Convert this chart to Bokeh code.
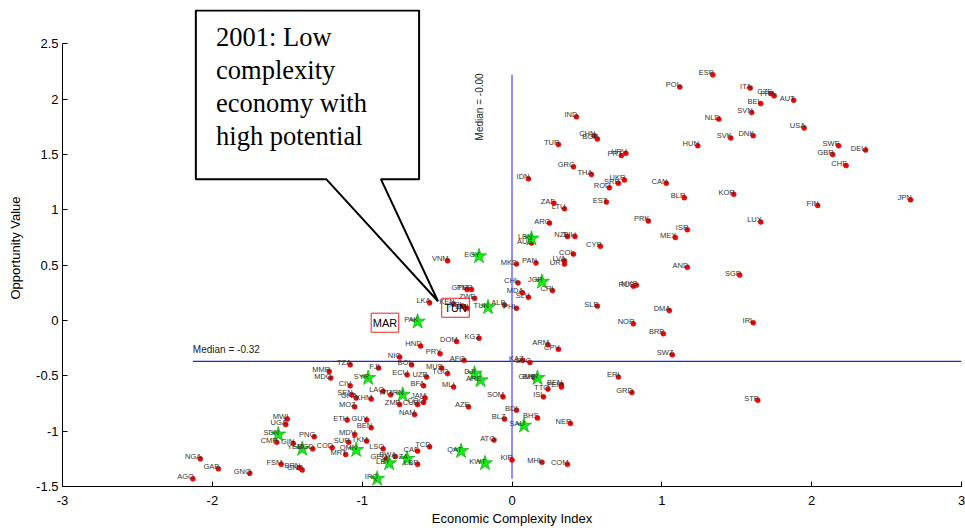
import math
from bokeh.plotting import figure
from bokeh.models import (ColumnDataSource, FixedTicker, PolyAnnotation, Label,
                          BoxAnnotation, Range1d)
from bokeh.core.properties import value
from bokeh.embed import file_html
from bokeh.resources import INLINE

# ---- data ----
dot_codes = ["AGO", "NGA", "GAB", "GNQ", "FSM", "BRN", "GNB", "MWI", "UGA", "CMR",
             "GIN", "BGD", "PNG", "COD", "MRT", "MDV", "SUR", "TKM", "ETH", "GUY",
             "BEN", "MOZ", "CIV", "SEN", "GHA", "KHM", "MMR", "MDG", "TZA", "FJI",
             "NIC", "BOL", "ECU", "UZB", "MUS", "TGO", "AFG", "BFA", "MLI", "LAO",
             "HTI", "JAM", "ZMB", "CUB", "COG", "NAM", "SOM", "AZE", "BDI", "BLZ",
             "BHS", "ATG", "TCD", "CAF", "KIR", "MHL", "COM", "LSO", "BWA", "LBR",
             "GEO", "VNM", "MKD", "PAN", "CHL", "CRI", "MDA", "SLV", "GTM", "PER",
             "ZWE", "LKA", "KEN", "NPL", "IDN", "ALB", "PHL", "HND", "DOM", "KGZ",
             "PRY", "KAZ", "SYC", "ARM", "CPV", "GMB", "BEN", "YEM", "TTO", "ISL",
             "NER", "SLE", "ERI", "GRD", "STP", "SWZ", "BRB", "NOR", "DMA", "IRL",
             "RUS", "MYS", "SGP", "AND", "CYP", "LVA", "URY", "COL", "AUS", "NZL",
             "BIH", "ARG", "ZAF", "LTU", "IDN", "GRC", "THA", "TUR", "IND", "CHN",
             "BGR", "PRT", "HRV", "ROU", "SRB", "UKR", "EST", "CAN", "BLR", "PRK",
             "ISR", "MEX", "HUN", "NLD", "SVK", "DNK", "KOR", "LUX", "POL", "ESP",
             "ITA", "CZE", "FRA", "AUT", "BEL", "SVN", "USA", "SWE", "GBR", "DEU",
             "CHE", "FIN", "JPN"]
dot_eci = [-2.13, -2.08, -1.96, -1.75, -1.54, -1.42, -1.40, -1.50, -1.51, -1.57,
           -1.46, -1.33, -1.32, -1.20, -1.11, -1.05, -1.09, -0.97, -1.10, -0.97,
           -0.94, -1.05, -1.08, -1.07, -1.04, -0.94, -1.22, -1.21, -1.08, -0.89,
           -0.75, -0.67, -0.70, -0.57, -0.47, -0.43, -0.32, -0.59, -0.39, -0.86,
           -0.81, -0.58, -0.75, -0.63, -0.59, -0.65, -0.06, -0.29, 0.03, -0.05,
           0.17, -0.12, -0.55, -0.63, 0.00, 0.20, 0.37, -0.86, -0.78, -0.63,
           -0.84, -0.43, 0.03, 0.16, 0.04, 0.27, 0.07, 0.11, -0.30, -0.27,
           -0.25, -0.55, -0.39, -0.33, -0.30, -0.05, 0.03, -0.61, -0.37, -0.22,
           -0.48, 0.07, 0.12, 0.24, 0.31, 0.15, 0.33, 0.33, 0.24, 0.21,
           0.39, 0.57, 0.71, 0.80, 1.64, 1.07, 1.01, 0.81, 1.05, 1.61,
           0.81, 0.83, 1.52, 1.17, 0.59, 0.35, 0.35, 0.41, 0.13, 0.37,
           0.42, 0.25, 0.28, 0.35, 0.11, 0.41, 0.53, 0.31, 0.43, 0.55,
           0.57, 0.73, 0.76, 0.65, 0.71, 0.75, 0.63, 1.03, 1.15, 0.91,
           1.17, 1.09, 1.24, 1.38, 1.46, 1.61, 1.48, 1.66, 1.12, 1.34,
           1.59, 1.73, 1.75, 1.88, 1.66, 1.60, 1.95, 2.18, 2.14, 2.36,
           2.23, 2.04, 2.66]
dot_opp = [-1.43, -1.25, -1.34, -1.38, -1.30, -1.33, -1.35, -0.89, -0.94, -1.10,
           -1.11, -1.16, -1.05, -1.15, -1.21, -1.03, -1.10, -1.09, -0.90, -0.90,
           -0.97, -0.78, -0.59, -0.67, -0.70, -0.71, -0.46, -0.52, -0.40, -0.43,
           -0.33, -0.40, -0.49, -0.51, -0.43, -0.48, -0.36, -0.59, -0.60, -0.64,
           -0.67, -0.70, -0.76, -0.76, -0.74, -0.85, -0.69, -0.78, -0.81, -0.89,
           -0.88, -1.08, -1.14, -1.18, -1.26, -1.28, -1.30, -1.16, -1.23, -1.30,
           -1.25, 0.54, 0.51, 0.52, 0.34, 0.27, 0.25, 0.21, 0.28, 0.28,
           0.20, 0.16, 0.15, 0.13, 0.11, 0.14, 0.11, -0.23, -0.19, -0.16,
           -0.30, -0.36, -0.38, -0.22, -0.26, -0.52, -0.58, -0.60, -0.62, -0.69,
           -0.93, 0.13, -0.51, -0.65, -0.72, -0.31, -0.12, -0.03, 0.09, -0.02,
           0.31, 0.32, 0.41, 0.48, 0.67, 0.54, 0.51, 0.60, 0.70, 0.76,
           0.76, 0.88, 1.06, 1.01, 1.28, 1.39, 1.32, 1.59, 1.84, 1.67,
           1.64, 1.49, 1.51, 1.20, 1.24, 1.27, 1.07, 1.24, 1.11, 0.90,
           0.82, 0.75, 1.58, 1.82, 1.65, 1.67, 1.14, 0.89, 2.11, 2.22,
           2.10, 2.05, 2.03, 1.99, 1.96, 1.88, 1.74, 1.58, 1.50, 1.54,
           1.40, 1.04, 1.09]

star_codes = ["SDN", "YEM", "OMN", "SYR", "DJI", "ARE", "IRN", "SAU", "QAT", "KWT",
              "IRQ", "LBY", "DZA", "EGY", "JOR", "LBN", "BHR", "PAK", "TUN"]
star_eci = [-1.56, -1.40, -1.04, -0.96, -0.25, -0.21, -0.73, 0.08, -0.34, -0.18,
            -0.90, -0.82, -0.70, -0.22, 0.20, 0.13, 0.17, -0.63, -0.16]
star_opp = [-1.03, -1.16, -1.17, -0.52, -0.48, -0.54, -0.67, -0.95, -1.18, -1.29,
            -1.43, -1.29, -1.25, 0.58, 0.35, 0.74, -0.52, -0.01, 0.12]

median_eci = 0.0
median_opp = -0.37
median_eci_text = "Median = -0.00"
median_opp_text = "Median = -0.32"

x_ticks = [-3, -2, -1, 0, 1, 2, 3]
x_tick_labels = ["-3", "-2", "-1", "0", "1", "2", "3"]
y_ticks = [-1.5, -1, -0.5, 0, 0.5, 1, 1.5, 2, 2.5]
y_tick_labels = ["-1.5", "-1", "-0.5", "0", "0.5", "1", "1.5", "2", "2.5"]

highlight_codes = ["MAR", "TUN"]
highlight_eci = [-0.848, -0.377]
highlight_opp = [-0.02, 0.115]

callout_text = "2001: Low\ncomplexity\neconomy with\nhigh potential"

FONT = "Liberation Sans"

p = figure(frame_width=899, frame_height=477, output_backend="svg", toolbar_location=None,
           x_range=Range1d(-3, 3), y_range=Range1d(-1.5, 2.81),
           min_border_left=62, min_border_right=4, min_border_top=9,
           min_border_bottom=37)
p.outline_line_color = None
p.xgrid.visible = False
p.ygrid.visible = False
p.background_fill_color = "white"
p.border_fill_color = "white"

for ax in (p.xaxis[0], p.yaxis[0]):
    ax.major_tick_in = 5
    ax.major_tick_out = 0
    ax.minor_tick_line_color = None
    ax.axis_line_color = "black"
    ax.major_tick_line_color = "black"
    ax.major_label_text_font = FONT
    ax.major_label_text_font_size = "13px"
    ax.major_label_text_color = "black"
    ax.axis_label_text_font = FONT
    ax.axis_label_text_font_size = "13px"
    ax.axis_label_text_font_style = "normal"
    ax.axis_label_text_color = "black"

p.xaxis[0].ticker = FixedTicker(ticks=x_ticks)
p.xaxis[0].major_label_overrides = {t: l for t, l in zip(x_ticks, x_tick_labels)}
p.yaxis[0].ticker = FixedTicker(ticks=y_ticks)
p.yaxis[0].major_label_overrides = {t: l for t, l in zip(y_ticks, y_tick_labels)}
p.yaxis[0].bounds = (y_ticks[0], y_ticks[-1])
p.xaxis[0].axis_label = "Economic Complexity Index"
p.yaxis[0].axis_label = "Opportunity Value"
p.xaxis[0].major_label_standoff = 9
p.xaxis[0].axis_label_standoff = 3
p.yaxis[0].major_label_standoff = 4
p.yaxis[0].axis_label_standoff = 10

all_eci = dot_eci + star_eci
all_opp = dot_opp + star_opp

# median lines
p.line([min(all_eci), 3], [median_opp, median_opp], line_color="#2424d8", line_width=1.2)
p.line([median_eci, median_eci], [min(all_opp), max(all_opp)], line_color="#6b6bff", line_width=1.5)

dots = ColumnDataSource(dict(x=dot_eci, y=dot_opp, code=dot_codes))
stars = ColumnDataSource(dict(x=star_eci, y=star_opp, code=star_codes))

p.scatter("x", "y", source=dots, marker="circle", size=5, fill_color="#ff0000",
          line_color="#cc0000", line_width=0.5)
p.scatter("x", "y", source=stars, marker="star", size=16, fill_color="#11ee11",
          line_color="#00a000", line_width=0.6)

for src in (dots, stars):
    p.text("x", "y", text="code", source=src, text_align="right", text_baseline="middle",
           x_offset=1, y_offset=-2, text_font=value(FONT), text_font_size="7.5px",
           text_color="#333333")

# median texts
p.add_layout(Label(x=min(all_eci), y=median_opp + 0.11, text=median_opp_text,
                   text_font=FONT, text_font_size="10px", text_color="#222222",
                   text_baseline="middle", text_align="left"))
p.add_layout(Label(x=median_eci - 0.22, y=1.93, text=median_eci_text, angle=math.pi / 2,
                   text_font=FONT, text_font_size="10px", text_color="#222222",
                   text_baseline="middle", text_align="center"))

# highlight boxes
for c, hx, hy in zip(highlight_codes, highlight_eci, highlight_opp):
    p.add_layout(BoxAnnotation(left=hx - 0.092, right=hx + 0.092, bottom=hy - 0.086,
                               top=hy + 0.086, fill_alpha=0, line_color="#ee2222",
                               line_alpha=1, line_width=1))
    p.add_layout(Label(x=hx, y=hy, text=c, text_font=FONT, text_font_size="11px",
                       text_color="black", text_align="center", text_baseline="middle"))

# callout
p.add_layout(PolyAnnotation(xs=[-2.11, -0.62, -0.62, -0.875, -0.494, -1.24, -2.11],
                            ys=[2.80, 2.80, 1.277, 1.277, 0.174, 1.277, 1.277],
                            fill_color="white", fill_alpha=1, line_color="black",
                            line_alpha=1, line_width=2))
p.add_layout(Label(x=-1.975, y=2.70, text=callout_text, text_font="Liberation Serif",
                   text_font_size="26.5px", text_color="black", text_align="left",
                   text_baseline="top", text_line_height=1.1))

open("out.html", "w").write(file_html(p, INLINE))
